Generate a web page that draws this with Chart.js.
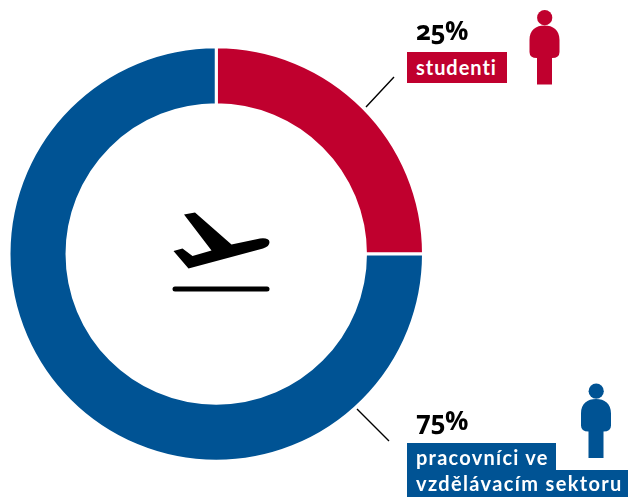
<!DOCTYPE html>
<html>
<head>
<meta charset="utf-8">
<title>Doughnut</title>
<script src="https://cdn.jsdelivr.net/npm/chart.js@4"></script>
<style>
  html, body { margin: 0; padding: 0; background: #fff; }
  #wrap { position: relative; width: 628px; height: 497px; overflow: hidden; }
  #wrap canvas { position: absolute; left: 0; top: 0; }
  .pct, .tag { position: absolute; left: 416px; white-space: nowrap; }
  .pct { font-family: "Open Sans", sans-serif; font-weight: 700; font-size: 26px; line-height: 30px; color: #000; font-variant-numeric: oldstyle-nums; letter-spacing: -0.5px; }
  .tag { left: 407px; padding-left: 9px; font-family: Lato, sans-serif; font-weight: 700; font-size: 20px; color: #fff; }
  #pct0 { top: 15px; }
  #pct1 { top: 405px; }
  #tag0-0 { top: 52px; width: 91px; height: 31px; line-height: 30px; letter-spacing: 0.95px; background: #c0002e; }
  #tag1-0 { top: 443px; width: 140px; height: 27px; line-height: 28px; letter-spacing: 1.25px; background: #005394; }
  #tag1-1 { top: 470px; width: 212px; height: 27px; line-height: 26px; letter-spacing: 1.35px; background: #005394; }
</style>
</head>
<body>
<div id="wrap"><canvas id="graf" width="628" height="497"></canvas></div>
<script>
const kategorie = ['studenti', 'pracovníci ve vzdělávacím sektoru'];
const hodnoty = [25, 75];
const barvy = ['#c0002e', '#005394'];
const radkyPopisku = [['studenti'], ['pracovníci ve', 'vzdělávacím sektoru']];

// Popisky
const wrap = document.getElementById('wrap');
hodnoty.forEach((h, i) => {
  const pct = document.createElement('div');
  pct.className = 'pct';
  pct.id = 'pct' + i;
  pct.textContent = h + '%';
  wrap.appendChild(pct);

  radkyPopisku[i].forEach((txt, j) => {
    const tag = document.createElement('div');
    tag.className = 'tag';
    tag.id = 'tag' + i + '-' + j;
    tag.textContent = txt;
    wrap.appendChild(tag);
  });
});

function postava(ctx, dx, dy, barva) {
  ctx.fillStyle = barva;
  ctx.beginPath();
  ctx.arc(544.7 + dx, 17.7 + dy, 7.6, 0, Math.PI * 2);
  ctx.fill();

  ctx.beginPath();
  ctx.moveTo(529.5 + dx, 40 + dy);
  ctx.bezierCurveTo(529.5 + dx, 30 + dy, 536 + dx, 25.5 + dy, 544.5 + dx, 25.5 + dy);
  ctx.bezierCurveTo(553 + dx, 25.5 + dy, 559.5 + dx, 30 + dy, 559.5 + dx, 40 + dy);
  ctx.lineTo(559.5 + dx, 52 + dy);
  ctx.quadraticCurveTo(559.5 + dx, 58 + dy, 552 + dx, 58 + dy);
  ctx.lineTo(552 + dx, 84.5 + dy);
  ctx.lineTo(537 + dx, 84.5 + dy);
  ctx.lineTo(537 + dx, 58 + dy);
  ctx.quadraticCurveTo(529.5 + dx, 58 + dy, 529.5 + dx, 52 + dy);
  ctx.closePath();
  ctx.fill();
}

function letadlo(ctx) {
  ctx.fillStyle = '#000';
  ctx.beginPath();
  ctx.moveTo(184, 214.5);
  ctx.lineTo(195, 212.5);
  ctx.lineTo(231.5, 244.5);
  ctx.lineTo(260, 238.5);
  ctx.quadraticCurveTo(269, 237.5, 269.5, 242);
  ctx.quadraticCurveTo(269.5, 246.5, 263, 248.5);
  ctx.lineTo(188.5, 268.5);
  ctx.lineTo(173.5, 251);
  ctx.lineTo(182.5, 248.5);
  ctx.lineTo(192.5, 256);
  ctx.lineTo(211.5, 250.5);
  ctx.closePath();
  ctx.fill();

  ctx.strokeStyle = '#000';
  ctx.lineWidth = 5;
  ctx.lineCap = 'round';
  ctx.beginPath();
  ctx.moveTo(175, 289);
  ctx.lineTo(267, 289);
  ctx.stroke();
}

const doplnky = {
  id: 'doplnky',
  afterDraw(chart) {
    const ctx = chart.ctx;
    ctx.save();

    // Vodici cary
    ctx.strokeStyle = '#000';
    ctx.lineWidth = 1.4;
    ctx.beginPath();
    ctx.moveTo(366, 107);
    ctx.lineTo(394, 77);
    ctx.moveTo(357, 409);
    ctx.lineTo(389, 441);
    ctx.stroke();

    postava(ctx, 0, 0, barvy[0]);
    postava(ctx, 51.5, 373.5, barvy[1]);
    letadlo(ctx);
    ctx.restore();
  }
};

new Chart(document.getElementById('graf'), {
  type: 'doughnut',
  data: {
    labels: kategorie,
    datasets: [{
      data: hodnoty,
      backgroundColor: barvy,
      borderColor: '#fff',
      borderWidth: 3
    }]
  },
  options: {
    responsive: false,
    animation: false,
    cutout: '72%',
    layout: { padding: { left: 7.5, top: 45, right: 203, bottom: 34 } },
    plugins: {
      legend: { display: false },
      tooltip: { enabled: false }
    }
  },
  plugins: [doplnky]
});
</script>
</body>
</html>
